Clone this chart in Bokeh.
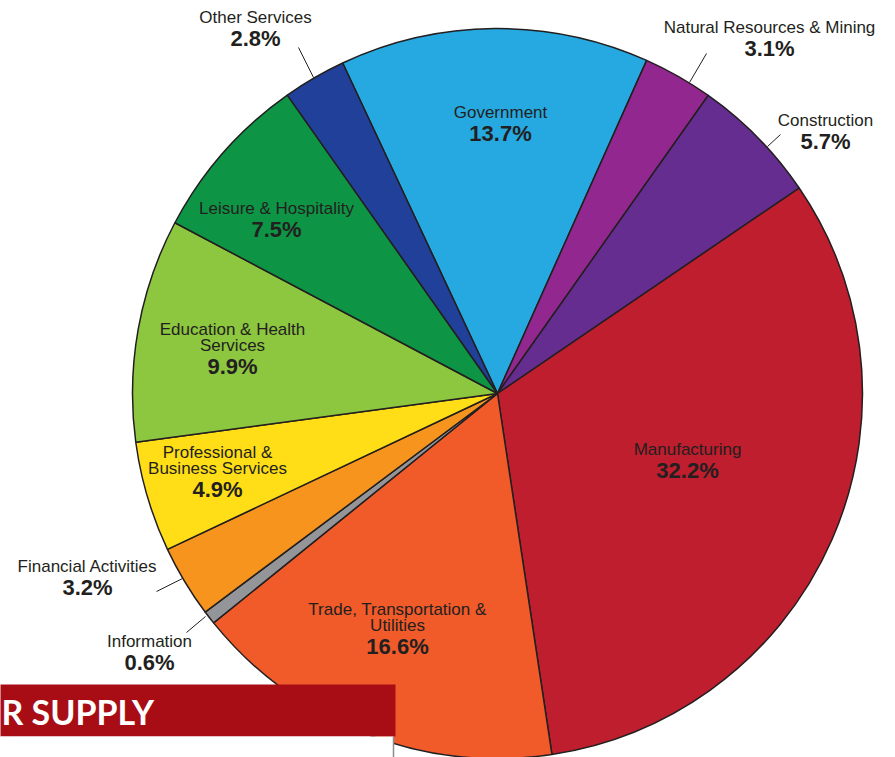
import math
from bokeh.plotting import figure
from bokeh.models import Range1d, ColumnDataSource
from bokeh.core.properties import value
from bokeh.embed import file_html
from bokeh.resources import INLINE

# ---------------- data ----------------
categories = [
    "Government",
    "Natural Resources & Mining",
    "Construction",
    "Manufacturing",
    "Trade, Transportation &\nUtilities",
    "Information",
    "Financial Activities",
    "Professional &\nBusiness Services",
    "Education & Health\nServices",
    "Leisure & Hospitality",
    "Other Services",
]
shares = [13.7, 3.1, 5.7, 32.2, 16.6, 0.6, 3.2, 4.9, 9.9, 7.5, 2.8]
colors = [
    "#25a9e0", "#92278f", "#662d91", "#be1e2d", "#f15a29", "#939598",
    "#f7941d", "#ffde17", "#8dc63f", "#0d9444", "#21409a",
]

# ---------------- layout (image pixel coordinates) ----------------
W, H = 895, 757
CX, CY, R = 497, 393, 365
THETA0 = math.radians(115.1)   # boundary between Other Services and Government

# label anchor: centre x, baseline of the percentage line
label_x = [500, 769, 825, 687, 397, 149, 87, 217, 232, 276, 255]
label_pct_y = [141, 56, 149, 478, 654, 670, 595, 497, 374, 237, 46]
TEXT_SHIFT = 7   # renderer places the alphabetic baseline a little low

# leader lines for outside labels (x0, y0, x1, y1)
leaders = [
    (298, 47, 313, 77),
    (706, 53, 689, 82),
    (780, 134, 767, 146),
    (156, 591, 182, 578),
    (186, 632, 205, 616),
]

TEXT_COL = "#231f20"
FONT = "Liberation Sans"


def Y(v):
    return H - v


p = figure(
    width=W, height=H,
    x_range=Range1d(0, W), y_range=Range1d(0, H),
    x_axis_location=None, y_axis_location=None,
    toolbar_location=None, output_backend="svg",
    min_border=0, outline_line_color=None,
    background_fill_color="white", border_fill_color="white",
)
p.grid.visible = False

# ---------------- pie ----------------
total = sum(shares)
starts, ends = [], []
cum = 0.0
for s in shares:
    a_prev = THETA0 - cum / total * 2 * math.pi
    cum += s
    a_next = THETA0 - cum / total * 2 * math.pi
    starts.append(a_next)
    ends.append(a_prev)

src = ColumnDataSource(dict(
    x=[CX] * len(shares), y=[Y(CY)] * len(shares),
    start=starts, end=ends, color=colors,
))
p.wedge(x="x", y="y", radius=R, start_angle="start", end_angle="end",
        fill_color="color", line_color=TEXT_COL, line_width=1.5, source=src)

# ---------------- labels ----------------
name_x, name_y, name_t = [], [], []
pct_t = []
for cat, s, lx, py in zip(categories, shares, label_x, label_pct_y):
    lines = cat.split("\n")
    n = len(lines)
    for i, ln in enumerate(lines):
        name_x.append(lx)
        name_y.append(Y(py - 22 - (n - 1 - i) * 16.5 - TEXT_SHIFT))
        name_t.append(ln)
    pct_t.append(f"{s:.1f}%")

p.text(x=name_x, y=name_y, text=name_t, text_align="center",
       text_baseline="alphabetic", text_font=value(FONT),
       text_font_size="17px", text_color=TEXT_COL)
p.text(x=label_x, y=[Y(v - TEXT_SHIFT - 1) for v in label_pct_y], text=pct_t,
       text_align="center", text_baseline="alphabetic",
       text_font=value(FONT), text_font_style="bold",
       text_font_size="22px", text_color=TEXT_COL)

p.segment(x0=[l[0] for l in leaders], y0=[Y(l[1]) for l in leaders],
          x1=[l[2] for l in leaders], y1=[Y(l[3]) for l in leaders],
          line_color=TEXT_COL, line_width=1)

# ---------------- banner ----------------
p.quad(left=[-20], right=[395], top=[Y(684)], bottom=[Y(736)],
       fill_color="#a80d15", line_color=None)
p.quad(left=[-20], right=[393], top=[Y(736)], bottom=[Y(780)],
       fill_color="white", line_color=None)
p.segment(x0=[393], y0=[Y(736)], x1=[393], y1=[Y(780)],
          line_color="#8c8c8c", line_width=1.5)
p.text(x=[1], y=[Y(711)], text=["R SUPPLY"], text_align="left",
       text_baseline="alphabetic", text_font=value("Lato"),
       text_font_style="bold", text_font_size="34px", text_color="white")

open("out.html", "w").write(file_html(p, INLINE))
